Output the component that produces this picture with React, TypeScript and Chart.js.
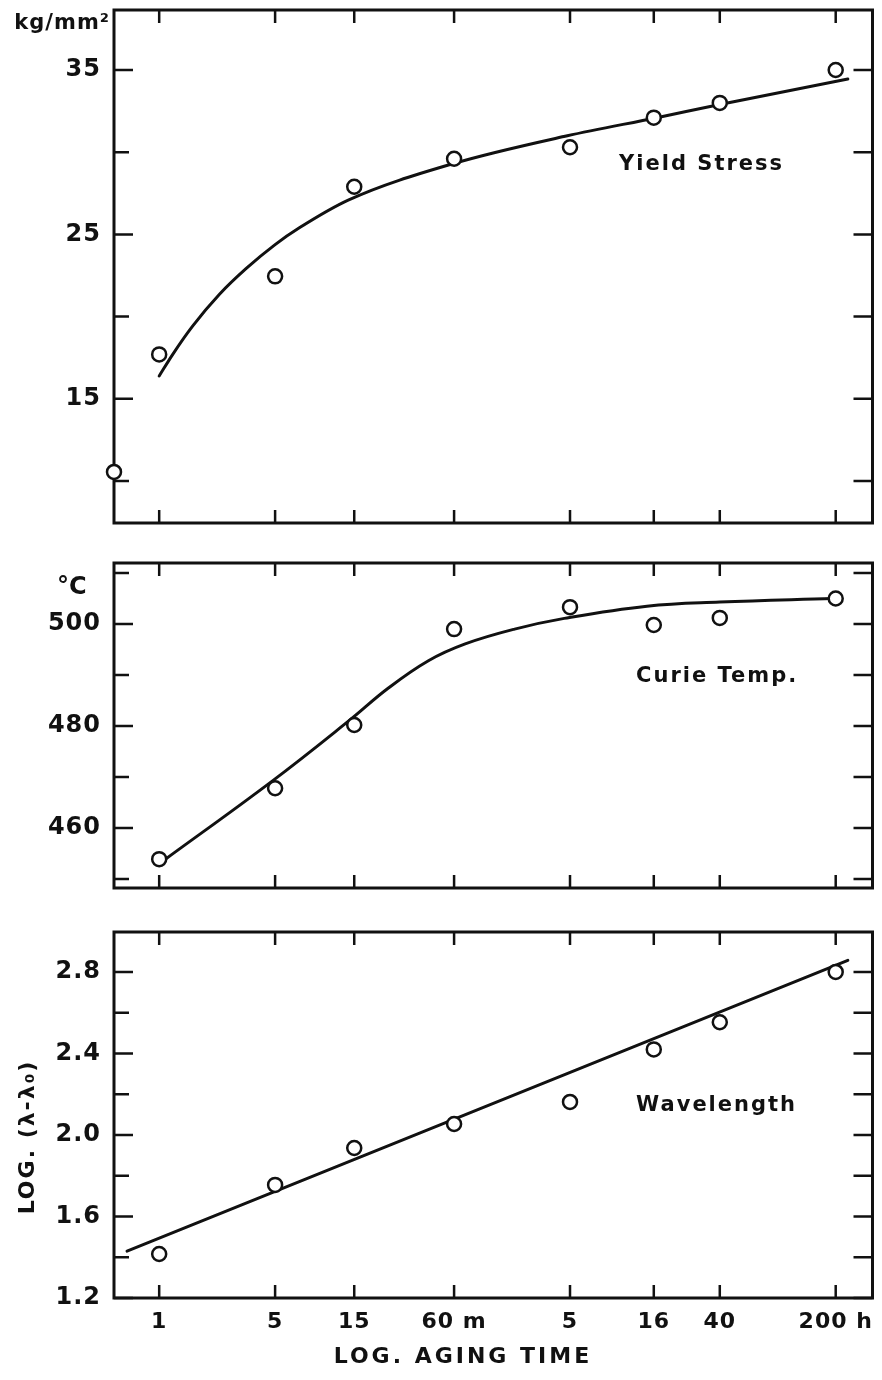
import React, { useEffect, useRef } from 'react';
import { Chart, registerables } from 'chart.js';

Chart.register(...registerables);

const INK = '#111111';
const FONT = 'DejaVu Sans';

// ---- shared x axis: log aging time (minutes) ----
const xTickValues = [1, 5, 15, 60, 300, 960, 2400, 12000];
const xTickLabels = ['1', '5', '15', '60 m', '5', '16', '40', '200 h'];
const xMin = 0.534;
const xMax = 20000;
const agingTimes = [1, 5, 15, 60, 300, 960, 2400, 12000];

// ---- Yield stress (kg/mm²) ----
const yieldTimes = [0.534, 1, 5, 15, 60, 300, 960, 2400, 12000];
const yieldStress = [10.55, 17.7, 22.45, 27.9, 29.6, 30.3, 32.1, 33.0, 35.0];
const yieldCurveTimes = [1.0, 1.21, 1.59, 2.31, 3.35, 5.0, 7.0, 13.9, 59, 289, 1000, 2400, 14200];
const yieldCurve = [16.39, 17.72, 19.42, 21.36, 22.93, 24.38, 25.4, 27.1, 29.3, 31.0, 32.1, 32.9, 34.45];
const yieldTicks = [10, 15, 20, 25, 30, 35];
const yieldTickLabels = ['', '15', '', '25', '', '35'];

// ---- Curie temperature (°C) ----
const curieTemp = [453.9, 467.8, 480.2, 499.0, 503.3, 499.8, 501.2, 505.0];
const curieCurveTimes = [1.05, 4.8, 13.9, 24, 42, 70, 139, 277, 873, 2400, 11500];
const curieCurve = [453.5, 469.2, 481.0, 487.4, 492.8, 496.1, 499.0, 501.1, 503.5, 504.3, 505.0];
const curieTicks = [450, 460, 470, 480, 490, 500, 510];
const curieTickLabels = ['', '460', '', '480', '', '500', ''];

// ---- Wavelength, LOG(λ-λ0) ----
const wavelength = [1.416, 1.755, 1.936, 2.054, 2.162, 2.42, 2.553, 2.8];
const waveFitTimes = [0.64, 14200];
const waveFit = [1.43, 2.857];
const waveTicks = [1.2, 1.4, 1.6, 1.8, 2.0, 2.2, 2.4, 2.6, 2.8];
const waveTickLabels = ['1.2', '', '1.6', '', '2.0', '', '2.4', '', '2.8'];

type Panel = {
  id: string;
  times: number[];
  values: number[];
  curveTimes: number[];
  curveValues: number[];
  mode: 'monotone' | 'default';
  tension: number;
  yMin: number;
  yMax: number;
  yTicks: number[];
  yTickLabels: string[];
  label: string;
  labelX: number;
  labelY: number;
  height: number;
  padTop: number;
  padBottom: number;
  showX: boolean;
};

const panels: Panel[] = [
  {
    id: 'yield', times: yieldTimes, values: yieldStress,
    curveTimes: yieldCurveTimes, curveValues: yieldCurve, mode: 'monotone', tension: 0.4,
    yMin: 7.445, yMax: 38.65, yTicks: yieldTicks, yTickLabels: yieldTickLabels,
    label: 'Yield Stress', labelX: 593, labelY: 29.27,
    height: 545, padTop: 10, padBottom: 22, showX: false,
  },
  {
    id: 'curie', times: agingTimes, values: curieTemp,
    curveTimes: curieCurveTimes, curveValues: curieCurve, mode: 'default', tension: 0.4,
    yMin: 448.24, yMax: 511.96, yTicks: curieTicks, yTickLabels: curieTickLabels,
    label: 'Curie Temp.', labelX: 751, labelY: 489.6,
    height: 365, padTop: 18, padBottom: 22, showX: false,
  },
  {
    id: 'wave', times: agingTimes, values: wavelength,
    curveTimes: waveFitTimes, curveValues: waveFit, mode: 'default', tension: 0,
    yMin: 1.2, yMax: 2.996, yTicks: waveTicks, yTickLabels: waveTickLabels,
    label: 'Wavelength', labelX: 751, labelY: 2.142,
    height: 470, padTop: 22, padBottom: 0, showX: true,
  },
];

function makeDecor(p: Panel) {
  return {
    id: 'decor_' + p.id,
    beforeDraw(chart: any) {
      chart.ctx.letterSpacing = '1px';
    },
    beforeDatasetsDraw(chart: any) {
      const { ctx, chartArea: ca, scales } = chart;
      const xs = scales.x;
      const ys = scales.y;
      ctx.save();
      ctx.strokeStyle = INK;
      ctx.lineWidth = 3;
      ctx.strokeRect(ca.left, ca.top, ca.right - ca.left, ca.bottom - ca.top);
      ctx.lineWidth = 2.5;
      ctx.beginPath();
      for (const v of xTickValues) {
        const px = xs.getPixelForValue(v);
        ctx.moveTo(px, ca.top);
        ctx.lineTo(px, ca.top + 13);
        ctx.moveTo(px, ca.bottom);
        ctx.lineTo(px, ca.bottom - 13);
      }
      p.yTicks.forEach((v, i) => {
        const py = ys.getPixelForValue(v);
        const len = p.yTickLabels[i] ? 19 : 15;
        ctx.moveTo(ca.left, py);
        ctx.lineTo(ca.left + len, py);
        ctx.moveTo(ca.right, py);
        ctx.lineTo(ca.right - 19, py);
      });
      ctx.stroke();

      ctx.fillStyle = INK;
      ctx.textBaseline = 'middle';
      ctx.textAlign = 'left';
      ctx.font = `bold 21px "${FONT}"`;
      ctx.letterSpacing = '2px';
      ctx.fillText(p.label, xs.getPixelForValue(p.labelX), ys.getPixelForValue(p.labelY));

      if (p.id === 'yield') {
        ctx.textAlign = 'right';
        ctx.font = `bold 21px "${FONT}"`;
        ctx.letterSpacing = '1px';
        ctx.fillText('kg/mm²', ca.left - 4, ca.top + 14);
      } else if (p.id === 'curie') {
        ctx.textAlign = 'left';
        ctx.font = `bold 24px "${FONT}"`;
        ctx.letterSpacing = '0px';
        ctx.fillText('°C', ca.left - 57, ca.top + 25);
      } else {
        ctx.save();
        ctx.translate(28, (ca.top + ca.bottom) / 2 + 22);
        ctx.rotate(-Math.PI / 2);
        ctx.textAlign = 'center';
        ctx.font = `bold 22px "${FONT}"`;
        ctx.fillText('LOG. (λ-λ₀)', 0, 0);
        ctx.restore();
        ctx.textAlign = 'center';
        ctx.font = `bold 22px "${FONT}"`;
        ctx.letterSpacing = '3px';
        ctx.fillText('LOG. AGING TIME', ca.left + (ca.right - ca.left) * 0.46, ca.bottom + 59);
      }
      ctx.restore();
    },
  };
}

function makeChart(canvas: HTMLCanvasElement, p: Panel) {
  const points = p.times.map((t, i) => ({ x: t, y: p.values[i] }));
  const curve = p.curveTimes.map((t, i) => ({ x: t, y: p.curveValues[i] }));
  return new Chart(canvas, {
    type: 'line',
    data: {
      datasets: [
        {
          data: points,
          showLine: false,
          pointRadius: 7,
          pointBorderWidth: 2.5,
          pointBackgroundColor: '#ffffff',
          pointBorderColor: INK,
          clip: false as any,
        },
        {
          data: curve,
          borderColor: INK,
          borderWidth: 3,
          pointRadius: 0,
          fill: false,
          cubicInterpolationMode: p.mode,
          tension: p.tension,
          borderCapStyle: 'round',
        },
      ],
    },
    options: {
      responsive: false,
      animation: false,
      events: [],
      layout: { padding: { top: p.padTop, bottom: p.padBottom, left: 0, right: 5 } },
      plugins: { legend: { display: false }, tooltip: { enabled: false } },
      scales: {
        x: {
          type: 'logarithmic',
          display: p.showX,
          min: xMin,
          max: xMax,
          afterBuildTicks: (s: any) => {
            s.ticks = xTickValues.map((v) => ({ value: v }));
          },
          afterFit: (s: any) => {
            if (p.showX) s.height = 82;
            s.paddingLeft = 0;
            s.paddingRight = 0;
          },
          grid: { display: false, drawTicks: false },
          border: { display: false },
          ticks: {
            autoSkip: false,
            maxRotation: 0,
            padding: 11,
            color: INK,
            font: { family: FONT, size: 22, weight: 'bold' },
            callback: (_v: any, i: number) => xTickLabels[i],
          },
        },
        y: {
          type: 'linear',
          min: p.yMin,
          max: p.yMax,
          afterBuildTicks: (s: any) => {
            s.ticks = p.yTicks.map((v) => ({ value: v }));
          },
          afterFit: (s: any) => {
            s.width = 114;
            s.paddingTop = 0;
            s.paddingBottom = 0;
          },
          grid: { display: false, drawTicks: false },
          border: { display: false },
          ticks: {
            autoSkip: false,
            padding: 13,
            color: INK,
            font: { family: FONT, size: 24, weight: 'bold' },
            callback: (_v: any, i: number) => p.yTickLabels[i],
          },
        },
      },
    },
    plugins: [makeDecor(p)],
  } as any);
}

export default function App() {
  const r1 = useRef<HTMLCanvasElement>(null);
  const r2 = useRef<HTMLCanvasElement>(null);
  const r3 = useRef<HTMLCanvasElement>(null);

  useEffect(() => {
    const refs = [r1, r2, r3];
    const charts = panels.map((p, i) => makeChart(refs[i].current as HTMLCanvasElement, p));
    return () => charts.forEach((c) => c.destroy());
  }, []);

  return (
    <div style={{ position: 'absolute', left: 0, top: 0, width: 882, height: 1380, background: '#ffffff' }}>
      <canvas ref={r1} width={882} height={545} style={{ position: 'absolute', left: 0, top: 0 }} />
      <canvas ref={r2} width={882} height={365} style={{ position: 'absolute', left: 0, top: 545 }} />
      <canvas ref={r3} width={882} height={470} style={{ position: 'absolute', left: 0, top: 910 }} />
    </div>
  );
}
